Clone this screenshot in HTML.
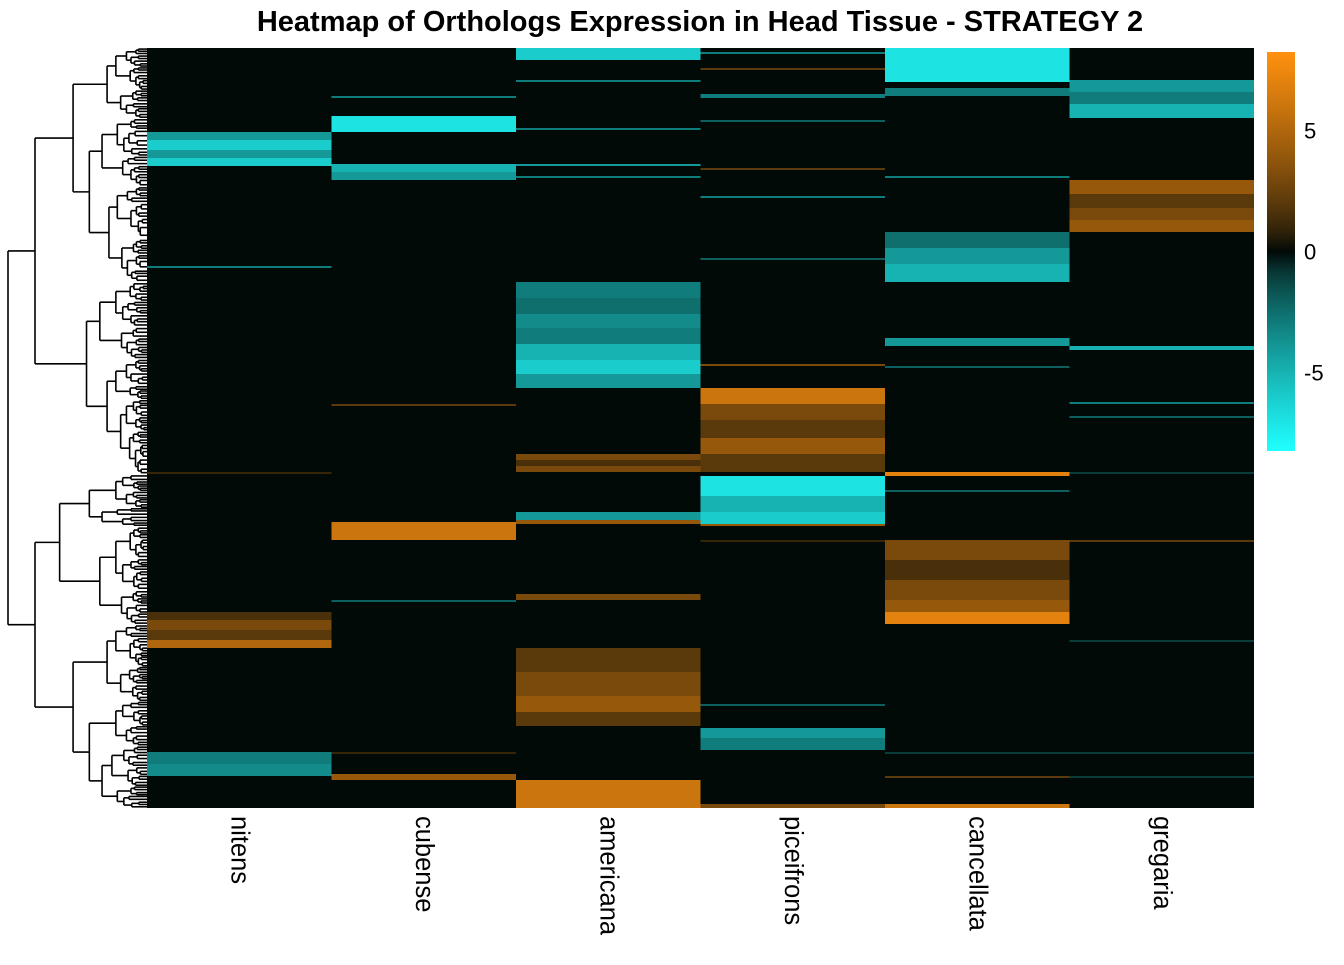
<!DOCTYPE html>
<html><head><meta charset="utf-8">
<style>
html,body{margin:0;padding:0;background:#fff;}
body{width:1344px;height:960px;overflow:hidden;font-family:"Liberation Sans",sans-serif;}
</style></head>
<body>
<svg id="chart" width="1344" height="960" xmlns="http://www.w3.org/2000/svg">
  <text x="700" y="31" text-anchor="middle" font-size="29" font-weight="bold" fill="#000">Heatmap of Orthologs Expression in Head Tissue - STRATEGY 2</text>
  <g id="dendro"></g>
  <g id="cells"></g>
  <g id="labels"></g>
  <g id="legend"></g>
</svg>
<script>
// ---- data ----
const columns = ["nitens","cubense","americana","piceifrons","cancellata","gregaria"];
const nRows = 380;
// segments: [startRow, endRow, value]
const nitensSeg = [[42,46,-4],[46,51,-6],[51,55,-4],[55,59,-6],[109,110,-3],[212,213,1],[282,286,1.5],[286,291,3],[291,296,2],[296,300,5],[352,358,-3],[358,364,-3.5]];
const cubenseSeg = [[24,25,-3],[34,42,-7],[58,62,-5],[62,66,-4],[178,179,2],[237,246,6],[276,277,-2],[352,353,1],[363,366,4]];
const americanaSeg = [[0,6,-6],[16,17,-3],[40,41,-3],[58,59,-4],[64,65,-3],[117,125,-3],[125,133,-2.5],[133,140,-3.5],[140,148,-3],[148,156,-5],[156,163,-6],[163,170,-4],[203,206,3],[206,209,1.5],[209,212,3],[232,236,-4],[236,238,4],[273,276,3],[300,312,2],[312,324,3],[324,332,4],[332,339,2],[366,380,6]];
const piceifronsSeg = [[2,3,-3],[10,11,2],[23,25,-3],[36,37,-2],[60,61,2],[74,75,-3],[105,106,-2],[158,159,3],[170,178,6],[178,186,3],[186,195,2],[195,203,4],[203,212,2],[214,224,-7],[224,232,-5],[232,238,-6],[238,239,4],[246,247,1],[328,329,-2],[340,345,-4],[345,351,-3],[378,380,3]];
const cancellataSeg = [[0,17,-7],[20,24,-3],[64,65,-3],[92,100,-2.5],[100,108,-4],[108,117,-5],[145,149,-4],[159,160,-2],[212,214,7],[221,222,-2],[246,256,3],[256,266,1.5],[266,276,3],[276,282,4],[282,288,7],[352,353,-1],[364,365,2],[378,380,6]];
const gregariaSeg = [[16,22,-4],[22,28,-3],[28,35,-5],[66,73,4],[73,80,2],[80,86,3],[86,92,4],[149,151,-5],[177,178,-3],[184,185,-2],[212,213,-1],[246,247,2],[296,297,-1],[352,353,-1],[364,365,-1]];
const allSeg = [nitensSeg,cubenseSeg,americanaSeg,piceifronsSeg,cancellataSeg,gregariaSeg];
const legendTicks = [5,0,-5];

// ---- scales ----
const X0=147, X1=1254, Y0=48, Y1=808;
const colW=(X1-X0)/columns.length, rowH=(Y1-Y0)/nRows;
function mix(a,b,t){return a.map((v,i)=>Math.round(v+(b[i]-v)*t));}
function color(v){
  const base=[2,10,8], pos=[255,145,15], neg=[32,255,255];
  const t=Math.pow(Math.min(1,Math.abs(v)/8.2),0.75);
  const c=v>=0?mix(base,pos,t):mix(base,neg,t);
  return `rgb(${c[0]},${c[1]},${c[2]})`;
}
const NS="http://www.w3.org/2000/svg";
function mk(tag,attrs,parent){const e=document.createElementNS(NS,tag);for(const k in attrs)e.setAttribute(k,attrs[k]);parent.appendChild(e);return e;}

const cells=document.getElementById('cells');
const bg=mk('rect',{x:X0,y:Y0,width:X1-X0,height:Y1-Y0,fill:color(0)},cells);


allSeg.forEach((segs,ci)=>{
  segs.forEach(s=>{
    const r=mk('rect',{x:X0+ci*colW,y:Y0+s[0]*rowH,width:colW,height:Math.max(1,(s[1]-s[0])*rowH),fill:color(s[2])},cells);
    
    
  });
});

// column labels
const labels=document.getElementById('labels');
columns.forEach((c,i)=>{
  const cx=X0+(i+0.5)*colW;
  const t=mk('text',{x:0,y:0,transform:`translate(${cx-8},816) rotate(90)`,'font-size':25.5,fill:'#000'},labels);
  t.textContent=c;
  
  
});

// legend
const lg=document.getElementById('legend');
const LY0=52,LY1=451,LX=1267,LW=28,vmax=8.25;
const defs=mk('defs',{},lg);
const grad=mk('linearGradient',{id:'lgrad',x1:0,y1:0,x2:0,y2:1},defs);
for(let i=0;i<=20;i++){const v=vmax-(2*vmax)*i/20;mk('stop',{offset:i/20,'stop-color':color(v)},grad);}
const lr=mk('rect',{x:LX,y:LY0,width:LW,height:LY1-LY0,fill:'url(#lgrad)'},lg);


legendTicks.forEach(v=>{
  const y=LY0+(vmax-v)/(2*vmax)*(LY1-LY0);
  const t=mk('text',{x:1304,y:y+8,'font-size':22,fill:'#000'},lg);
  t.textContent=v;
  
  
});

// dendrogram (schematic)
const dg=document.getElementById('dendro');
const ratios=[0.55,0.3,0.6,0.45,0.35,0.65,0.5,0.4,0.58,0.42];
function line(x1,y1,x2,y2){const l=mk('line',{x1,y1,x2,y2,stroke:'#000','stroke-width':1.6},dg);}
let k=0;
function tree(lo,hi,x,depth){
  if(depth>=9||hi-lo<4){return [(lo+hi)/2,X0];}
  const r=ratios[(k++)%ratios.length];
  const sp=lo+(hi-lo)*r;
  const f1=0.22+0.12*(k%3), f2=0.22+0.12*((k+1)%3);
  const xa=Math.min(X0-2,x+(X0-x)*f1), xb=Math.min(X0-2,x+(X0-x)*f2);
  const a=tree(lo,sp,xa,depth+1);
  const b=tree(sp,hi,xb,depth+1);
  line(x,a[0],x,b[0]);
  line(x,a[0],a[1],a[0]);
  line(x,b[0],b[1],b[0]);
  return [(a[0]+b[0])/2,x];
}
const topC=tree(Y0,474,35,1), botC=tree(474,Y1,35,1);
line(8,topC[0],8,botC[0]);line(8,topC[0],topC[1],topC[0]);line(8,botC[0],botC[1],botC[0]);
</script>
</body></html>
